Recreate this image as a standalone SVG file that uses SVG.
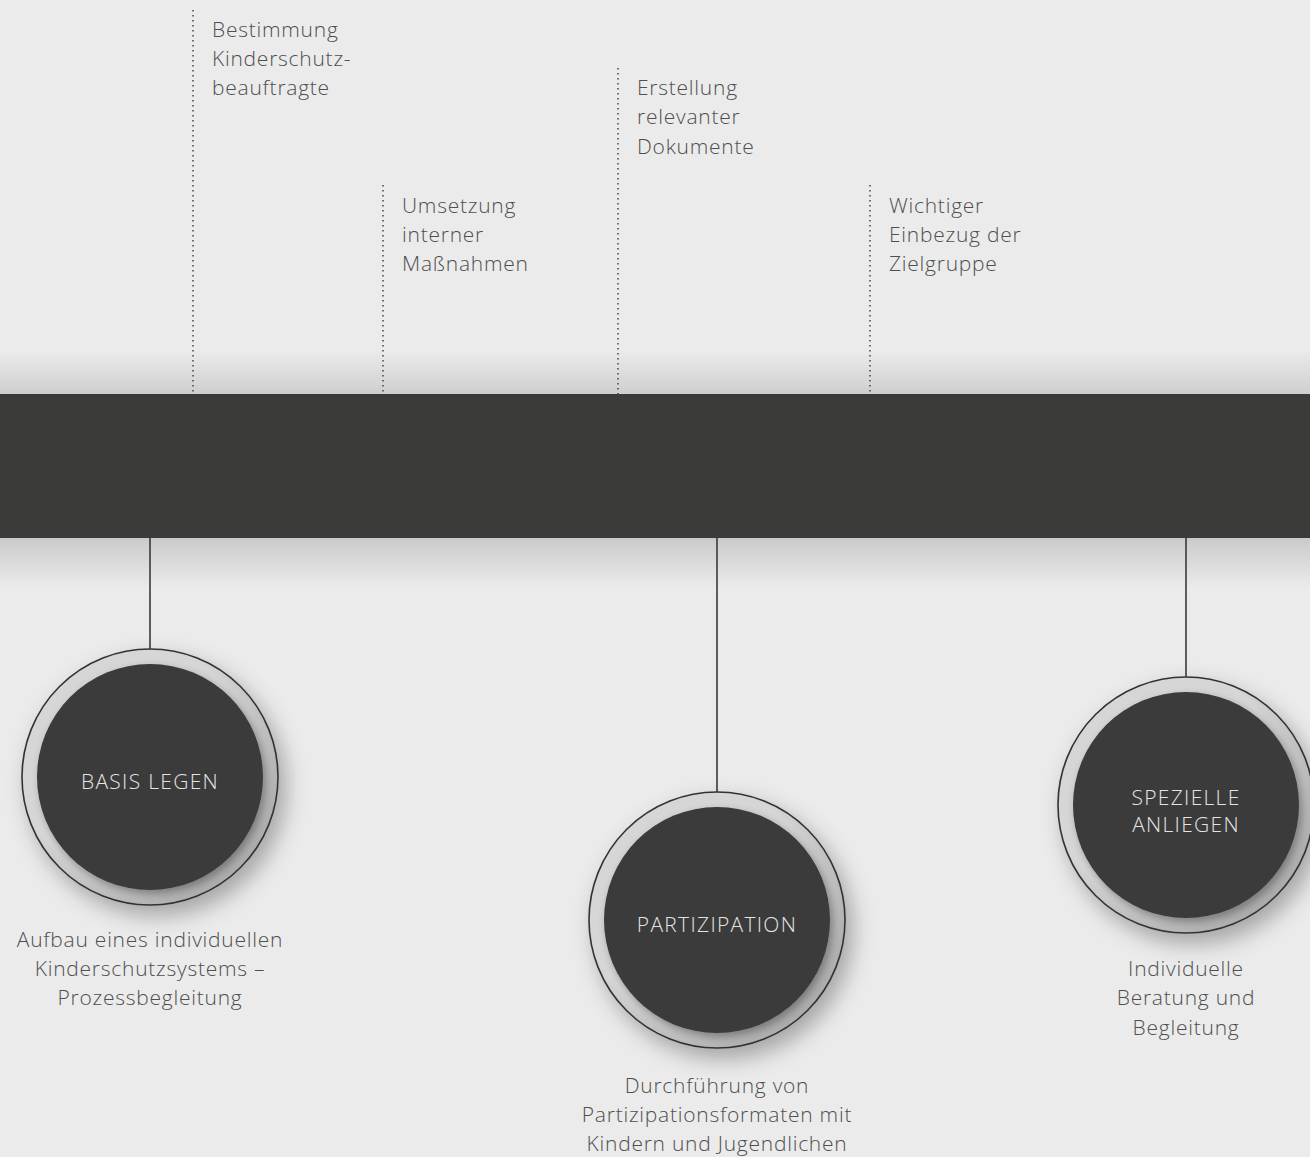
<svg xmlns="http://www.w3.org/2000/svg" width="1310" height="1157" viewBox="0 0 1310 1157">
<defs>
<style>
.t{font-family:"Open Sans","Noto Sans",sans-serif;font-weight:300;font-size:21px;letter-spacing:0.75px;fill:#4f4f4f}
.c{font-family:"Open Sans","Noto Sans",sans-serif;font-weight:300;font-size:21px;letter-spacing:1.3px;fill:#e4e4e4;text-anchor:middle}
.m{text-anchor:middle}
.dot{stroke:#444;stroke-width:1.5;stroke-dasharray:1.5 3.5;fill:none}
.sol{stroke:#3a3a3a;stroke-width:1.6;fill:none}
.ring{fill:url(#ringg);stroke:#333;stroke-width:1.6}
.core{fill:#3b3b3a}
</style>
<linearGradient id="up" x1="0" y1="0" x2="0" y2="1">
<stop offset="0" stop-color="#000" stop-opacity="0"/>
<stop offset="1" stop-color="#000" stop-opacity="0.12"/>
</linearGradient>
<linearGradient id="down" x1="0" y1="0" x2="0" y2="1">
<stop offset="0" stop-color="#000" stop-opacity="0.14"/>
<stop offset="1" stop-color="#000" stop-opacity="0"/>
</linearGradient>
<radialGradient id="ringg" cx="0.4" cy="0.4" r="0.65">
<stop offset="0.7" stop-color="#d6d6d6"/>
<stop offset="1" stop-color="#a9a9a9"/>
</radialGradient>
<filter id="sh" x="-30%" y="-30%" width="160%" height="160%">
<feDropShadow dx="7" dy="10" stdDeviation="11" flood-color="#000" flood-opacity="0.3"/>
</filter>
<filter id="sh2" x="-30%" y="-30%" width="160%" height="160%">
<feDropShadow dx="3" dy="4" stdDeviation="4" flood-color="#000" flood-opacity="0.35"/>
</filter>
</defs>
<rect width="1310" height="1157" fill="#ebebeb"/>
<rect x="0" y="350" width="1310" height="44" fill="url(#up)"/>
<rect x="0" y="538" width="1310" height="50" fill="url(#down)"/>
<rect id="band" x="0" y="394" width="1310" height="144" fill="#3b3b3a"/>

<g id="connectors">
<line class="dot" x1="193" y1="10" x2="193" y2="394"/>
<line class="dot" x1="383" y1="185" x2="383" y2="394"/>
<line class="dot" x1="618" y1="68" x2="618" y2="394"/>
<line class="dot" x1="870" y1="185" x2="870" y2="394"/>
<line class="sol" x1="150" y1="538" x2="150" y2="650"/>
<line class="sol" x1="717" y1="538" x2="717" y2="792"/>
<line class="sol" x1="1186" y1="538" x2="1186" y2="677"/>
</g>

<g id="step1">
<text class="t" x="212" y="37">Bestimmung</text>
<text class="t" x="212" y="66">Kinderschutz-</text>
<text class="t" x="212" y="95">beauftragte</text>
</g>
<g id="step2">
<text class="t" x="402" y="213">Umsetzung</text>
<text class="t" x="402" y="242">interner</text>
<text class="t" x="402" y="271">Maßnahmen</text>
</g>
<g id="step3">
<text class="t" x="637" y="95">Erstellung</text>
<text class="t" x="637" y="124">relevanter</text>
<text class="t" x="637" y="154">Dokumente</text>
</g>
<g id="step4">
<text class="t" x="889" y="213">Wichtiger</text>
<text class="t" x="889" y="242">Einbezug der</text>
<text class="t" x="889" y="271">Zielgruppe</text>
</g>

<g id="basis">
<circle class="ring" cx="150" cy="777" r="128" filter="url(#sh)"/>
<circle class="core" cx="150" cy="777" r="113" filter="url(#sh2)"/>
<text class="c" x="150" y="789">BASIS LEGEN</text>
<text class="t m" x="150" y="947">Aufbau eines individuellen</text>
<text class="t m" x="150" y="976">Kinderschutzsystems –</text>
<text class="t m" x="150" y="1005">Prozessbegleitung</text>
</g>

<g id="partizipation">
<circle class="ring" cx="717" cy="920" r="128" filter="url(#sh)"/>
<circle class="core" cx="717" cy="920" r="113" filter="url(#sh2)"/>
<text class="c" x="717" y="932">PARTIZIPATION</text>
<text class="t m" x="717" y="1093">Durchführung von</text>
<text class="t m" x="717" y="1122">Partizipationsformaten mit</text>
<text class="t m" x="717" y="1151">Kindern und Jugendlichen</text>
</g>

<g id="speziell">
<circle class="ring" cx="1186" cy="805" r="128" filter="url(#sh)"/>
<circle class="core" cx="1186" cy="805" r="113" filter="url(#sh2)"/>
<text class="c" x="1186" y="805">SPEZIELLE</text>
<text class="c" x="1186" y="832">ANLIEGEN</text>
<text class="t m" x="1186" y="976">Individuelle</text>
<text class="t m" x="1186" y="1005">Beratung und</text>
<text class="t m" x="1186" y="1035">Begleitung</text>
</g>
</svg>
